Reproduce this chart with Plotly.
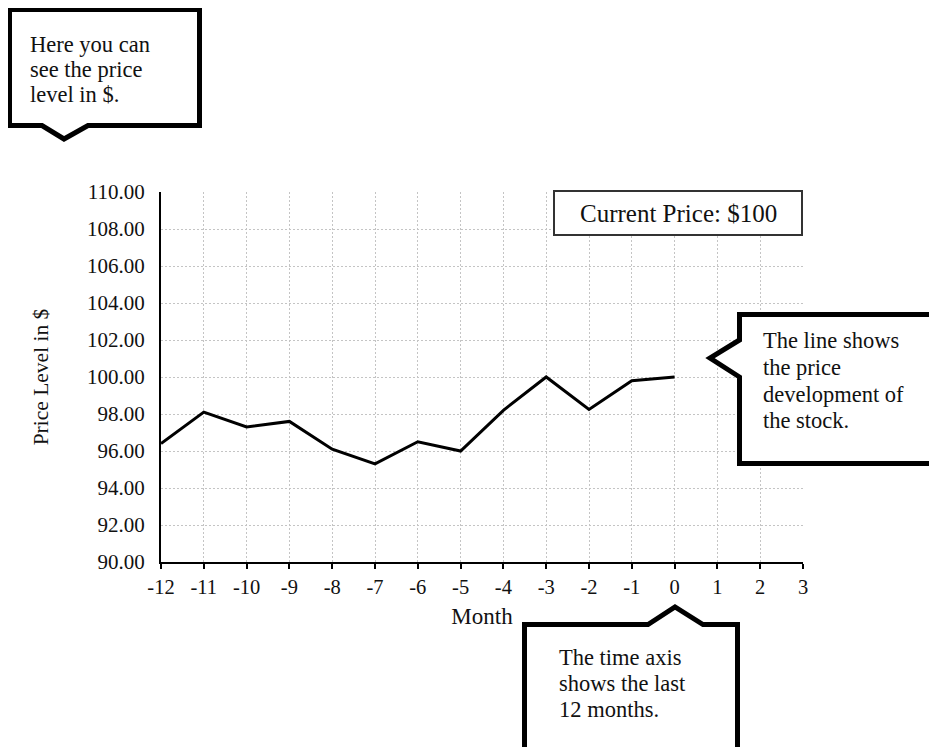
import plotly.graph_objects as go

months = [-12, -11, -10, -9, -8, -7, -6, -5, -4, -3, -2, -1, 0]
prices = [96.4, 98.1, 97.3, 97.6, 96.1, 95.3, 96.5, 96.0, 98.2, 100.0, 98.25, 99.8, 100.0]

x_tick_vals = [-12, -11, -10, -9, -8, -7, -6, -5, -4, -3, -2, -1, 0, 1, 2, 3]
x_tick_text = ["-12", "-11", "-10", "-9", "-8", "-7", "-6", "-5", "-4", "-3", "-2", "-1",
               "0", "1", "2", "3"]

x_title = "Month"
y_title = "Price Level in $"
price_label = "Current Price: $100"
callout_y_lines = ["Here you can", "see the price", "level in $."]
callout_line_lines = ["The line shows", "the price", "development of", "the stock."]
callout_x_lines = ["The time axis", "shows the last", "12 months."]

# page body has an 8px margin: work in screen pixels and shift
O = 8
FW, FH = 937 - O, 747 - O
L, R, T, B = 161, 803, 192, 562
PW, PH = R - L, B - T


def px(v):
    return (v - L) / PW


def py(v):
    return (B - v) / PH


def path(points):
    return "M " + " L ".join(f"{px(a):.5f},{py(b):.5f}" for a, b in points) + " Z"


FONT = "Liberation Serif, Times New Roman, serif"
TXT = "#111111"
GRID = "#c4c4c4"

fig = go.Figure()
fig.add_trace(go.Scatter(x=months, y=prices, mode="lines",
                         line=dict(color="black", width=3), showlegend=False,
                         hoverinfo="skip"))

fig.update_layout(
    width=FW, height=FH,
    margin=dict(l=L - O, r=FW - (R - O), t=T - O, b=FH - (B - O), pad=0),
    paper_bgcolor="white", plot_bgcolor="white",
    font=dict(family=FONT, size=21, color=TXT),
    showlegend=False,
)
fig.update_xaxes(range=[-12, 3], tickvals=x_tick_vals, ticktext=x_tick_text,
                 showgrid=True, gridcolor=GRID, griddash="2px,2px", gridwidth=1,
                 showline=True, linecolor="black", linewidth=2,
                 ticks="outside", ticklen=5, tickwidth=2, tickcolor="black",
                 zeroline=False, tickfont=dict(size=20.5),
                 title=dict(text=x_title, font=dict(size=23), standoff=11))
fig.update_yaxes(range=[90, 110], dtick=2, tick0=90, tickformat=".2f",
                 showgrid=True, gridcolor=GRID, griddash="2px,2px", gridwidth=1,
                 showline=True, linecolor="black", linewidth=2,
                 ticks="", zeroline=False, ticklabelstandoff=10,
                 tickfont=dict(size=21),
                 title=dict(text=y_title, font=dict(size=21.5), standoff=33))

shapes = []
shapes.append(dict(type="rect", xref="paper", yref="paper",
                   x0=px(554), x1=px(802), y0=py(191), y1=py(235),
                   line=dict(color="#333333", width=2), fillcolor="white", layer="above"))
shapes.append(dict(type="path", xref="paper", yref="paper",
                   path=path([(9.5, 9.5), (199.5, 9.5), (199.5, 125.5), (88, 125.5),
                              (64, 139), (42, 125.5), (9.5, 125.5)]),
                   line=dict(color="black", width=5), fillcolor="white", layer="above"))
shapes.append(dict(type="path", xref="paper", yref="paper",
                   path=path([(739.5, 314.5), (960, 314.5), (960, 463.5), (739.5, 463.5),
                              (739.5, 377), (710, 358), (739.5, 340)]),
                   line=dict(color="black", width=5), fillcolor="white", layer="above"))
shapes.append(dict(type="path", xref="paper", yref="paper",
                   path=path([(524.5, 624.5), (648, 624.5), (675, 607), (703, 624.5),
                              (737.5, 624.5), (737.5, 780), (524.5, 780)]),
                   line=dict(color="black", width=5), fillcolor="white", layer="above"))
fig.update_layout(shapes=shapes)

ann = [dict(text=price_label, xref="paper", yref="paper", x=px(678), y=py(213),
            xanchor="center", yanchor="middle", showarrow=False,
            font=dict(size=25, family=FONT, color=TXT))]


def add_lines(lines, x_left, first_baseline, spacing, size=22.5):
    for i, s in enumerate(lines):
        base = first_baseline + i * spacing
        ann.append(dict(text=s, xref="paper", yref="paper", x=px(x_left - 2),
                        y=py(base - 0.28 * size), xanchor="left", yanchor="middle",
                        align="left", showarrow=False,
                        font=dict(size=size, family=FONT, color=TXT)))


add_lines(callout_y_lines, 30, 51, 25)
add_lines(callout_line_lines, 763, 347, 26.7)
add_lines(callout_x_lines, 559, 664, 26)
fig.update_layout(annotations=ann)

fig.write_html("out.html")
